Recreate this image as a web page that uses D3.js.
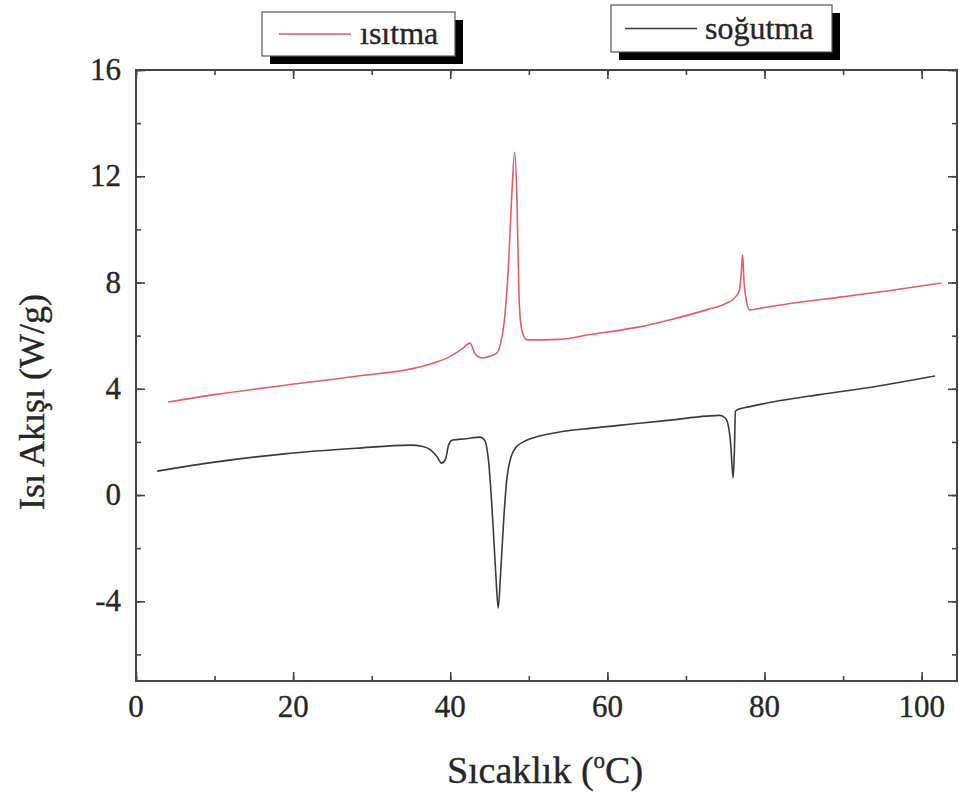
<!DOCTYPE html>
<html>
<head>
<meta charset="utf-8">
<script src="https://cdn.jsdelivr.net/npm/d3@7"></script>
<style>
  body { margin: 0; background: #fff; }
  svg text { font-family: "Liberation Serif", "Times New Roman", Times, Tinos, "Noto Serif", "DejaVu Serif", serif; fill: #262626; stroke: #262626; stroke-width: 0.35; }
</style>
</head>
<body>
<svg id="chart" width="959" height="794"></svg>
<script>
// heating curve (ısıtma)
const heatX = [4.1, 10, 19.2, 28, 36.1, 38, 40, 41.5, 42.5, 43.2, 44.0, 45, 45.9, 46.4, 46.9, 47.4, 47.8, 48.2, 48.5, 48.75, 49.0, 49.4, 49.8, 53.9, 58, 64.1, 68, 72.6, 75, 76.3, 76.8, 77.05, 77.2, 77.4, 77.7, 78.1, 80, 84, 89.6, 96, 102.5];
const heatY = [3.50, 3.78, 4.14, 4.47, 4.82, 4.98, 5.22, 5.50, 5.72, 5.30, 5.16, 5.22, 5.34, 5.7, 6.6, 8.6, 11.1, 12.9, 11.0, 7.5, 6.4, 5.95, 5.84, 5.86, 6.05, 6.33, 6.6, 6.97, 7.2, 7.45, 7.7, 8.4, 9.04, 8.0, 7.3, 6.97, 7.06, 7.24, 7.45, 7.7, 7.98];

// cooling curve (soğutma)
const coolX = [2.7, 10, 19.2, 28, 34.9, 36.5, 37.5, 38.3, 38.9, 39.4, 39.8, 40.3, 42, 43.8, 44.4, 44.9, 45.4, 45.8, 46.1, 46.4, 46.8, 47.2, 47.7, 48.4, 49.3, 50.5, 53.9, 58, 64.1, 68, 72.6, 74.3, 75.0, 75.4, 75.7, 76.0, 76.15, 76.3, 76.6, 78, 81, 87, 93.8, 101.7];
const coolY = [0.90, 1.24, 1.56, 1.76, 1.88, 1.83, 1.7, 1.45, 1.2, 1.35, 1.9, 2.07, 2.12, 2.18, 2.05, 1.2, -0.9, -3.0, -4.25, -3.0, -0.94, 0.6, 1.4, 1.81, 2.0, 2.15, 2.37, 2.52, 2.7, 2.82, 2.97, 3.0, 2.9, 2.6, 1.9, 0.64, 1.5, 3.15, 3.22, 3.32, 3.5, 3.78, 4.07, 4.48];

const seriesNames = ['ısıtma', 'soğutma'];
const xTicks = [0, 20, 40, 60, 80, 100];
const yTicks = [-4, 0, 4, 8, 12, 16];

const svg = d3.select('#chart');
const pLeft = 136, pRight = 957, pTop = 70, pBottom = 681;

const x = d3.scaleLinear().domain([0, 104.5]).range([pLeft, pRight]);
const y = d3.scaleLinear().domain([-7, 16]).range([pBottom, pTop]);

const line = d3.line().x(d => x(d[0])).y(d => y(d[1])).curve(d3.curveMonotoneX);

// curves
svg.append('path')
  .attr('d', line(d3.zip(heatX, heatY)))
  .attr('fill', 'none').attr('stroke', '#e35d64').attr('stroke-width', 1.6);
svg.append('path')
  .attr('d', line(d3.zip(coolX, coolY)))
  .attr('fill', 'none').attr('stroke', '#3a3a3a').attr('stroke-width', 1.6);

// frame with inward ticks on all sides
const axisColor = '#444';
const xMinor = d3.range(0, 105, 10);
const yMinor = d3.range(-6, 17, 2);

const styleAxis = g => {
  g.select('.domain').remove();
  g.selectAll('.tick line').attr('stroke', axisColor).attr('stroke-width', 1.6);
};

const tickSet = (axisGen, pos, isX) => {
  [[isX ? xMinor : yMinor, 5], [isX ? xTicks : yTicks, 9]].forEach(([vals, size]) => {
    svg.append('g')
      .attr('transform', isX ? `translate(0,${pos})` : `translate(${pos},0)`)
      .call(axisGen.tickValues(vals).tickSize(size).tickFormat(''))
      .call(styleAxis);
  });
};
tickSet(d3.axisTop(x), pBottom, true);
tickSet(d3.axisBottom(x), pTop, true);
tickSet(d3.axisRight(y), pLeft, false);
tickSet(d3.axisLeft(y), pRight, false);

svg.append('rect')
  .attr('x', pLeft).attr('y', pTop).attr('width', pRight - pLeft).attr('height', pBottom - pTop)
  .attr('fill', 'none').attr('stroke', axisColor).attr('stroke-width', 2);

// tick labels
svg.append('g').selectAll('text').data(xTicks).join('text')
  .attr('x', d => x(d)).attr('y', pBottom + 36)
  .attr('text-anchor', 'middle').attr('font-size', 31).text(d => d);
svg.append('g').selectAll('text').data(yTicks).join('text')
  .attr('x', pLeft - 15).attr('y', d => y(d) + 10)
  .attr('text-anchor', 'end').attr('font-size', 31).text(d => d);

// axis titles
const xt = svg.append('text')
  .attr('x', 545).attr('y', 783)
  .attr('text-anchor', 'middle').attr('font-size', 38);
xt.append('tspan').text('Sıcaklık (');
xt.append('tspan').attr('font-size', 23).attr('dy', -15).text('o');
xt.append('tspan').attr('dy', 15).text('C)');

svg.append('text')
  .attr('transform', `translate(44,${y(3.5)}) rotate(-90)`)
  .attr('text-anchor', 'middle').attr('font-size', 36)
  .text('Isı Akışı (W/g)');

// legend boxes
const legends = [
  { name: seriesNames[0], color: '#e35d64', x0: 262, y0: 12, w: 193, h: 44, lx: 279, tx: 360 },
  { name: seriesNames[1], color: '#3a3a3a', x0: 611, y0: 5, w: 221, h: 47, lx: 625, tx: 705 }
];
const lg = svg.append('g').selectAll('g').data(legends).join('g');
lg.append('rect')
  .attr('x', d => d.x0 + 8).attr('y', d => d.y0 + 8)
  .attr('width', d => d.w).attr('height', d => d.h).attr('fill', '#000');
lg.append('rect')
  .attr('x', d => d.x0).attr('y', d => d.y0)
  .attr('width', d => d.w).attr('height', d => d.h)
  .attr('fill', '#fff').attr('stroke', '#555').attr('stroke-width', 1.2);
lg.append('line')
  .attr('x1', d => d.lx).attr('x2', d => d.lx + 72)
  .attr('y1', d => d.y0 + d.h / 2).attr('y2', d => d.y0 + d.h / 2)
  .attr('stroke', d => d.color).attr('stroke-width', 1.4);
lg.append('text')
  .attr('x', d => d.tx).attr('y', d => d.y0 + d.h / 2 + 10)
  .attr('font-size', 32).text(d => d.name);
</script>
</body>
</html>
